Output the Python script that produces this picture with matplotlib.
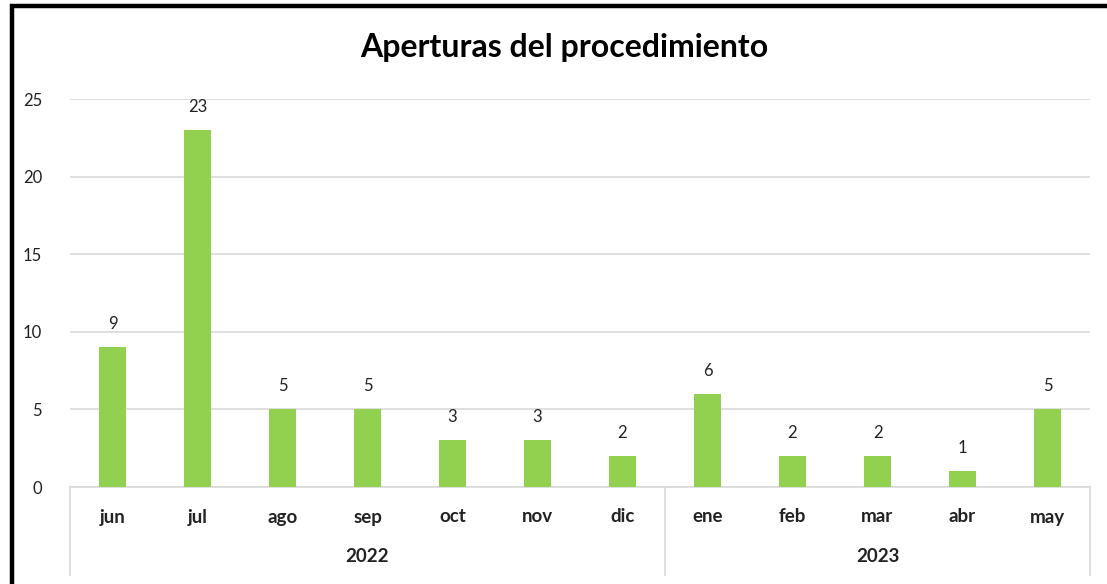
import matplotlib
matplotlib.use("Agg")
import matplotlib.pyplot as plt
from matplotlib.patches import Rectangle
from matplotlib.lines import Line2D

months = ["jun", "jul", "ago", "sep", "oct", "nov", "dic",
          "ene", "feb", "mar", "abr", "may"]
values = [9, 23, 5, 5, 3, 3, 2, 6, 2, 2, 1, 5]
years = ["2022", "2023"]
year_counts = [7, 5]
yticks = [0, 5, 10, 15, 20, 25]

plt.rcParams['font.family'] = ['Lato', 'DejaVu Sans']

W, H = 1107, 584
fig = plt.figure(figsize=(W / 100, H / 100), dpi=100)
ax = fig.add_axes([70 / W, (H - 487) / H, (1090 - 70) / W, (487 - 99) / H])

x = list(range(len(months)))
bars = ax.bar(x, values, width=0.32, color="#92D050", zorder=3)
for xi, v in zip(x, values):
    ax.annotate(str(v), (xi, v), xytext=(0, 11), textcoords="offset points",
                ha="center", va="bottom", fontsize=12, color="#222222")

ax.set_xlim(-0.5, len(months) - 0.5)
ax.set_ylim(0, 25)
ax.set_yticks(yticks)
ax.set_yticklabels([str(t) for t in yticks], fontsize=12, color="#222222")
ax.tick_params(axis="y", length=0, pad=20)
ax.grid(axis="y", color="#d9d9d9", linewidth=1.2, zorder=0)
for s in ["top", "right", "left"]:
    ax.spines[s].set_visible(False)
ax.spines["bottom"].set_color("#d9d9d9")
ax.spines["bottom"].set_linewidth(1.2)
ax.set_xticks(x)
ax.set_xticklabels([""] * len(months))
ax.tick_params(axis="x", length=0)

trans = ax.get_xaxis_transform()
# month labels
for xi, m in zip(x, months):
    ax.text(xi, -30 / 388, m, transform=trans, ha="center", va="center",
            fontsize=13.5, fontweight="bold", color="#222222")
# year group labels and separators
start = 0
bounds = [-0.5]
for y, c in zip(years, year_counts):
    center = start + (c - 1) / 2
    ax.text(center, -70 / 388, y, transform=trans, ha="center", va="center",
            fontsize=13.5, fontweight="bold", color="#222222")
    start += c
    bounds.append(start - 0.5)
for b in bounds:
    ax.add_line(Line2D([b, b], [0, -88 / 388], transform=trans, color="#d9d9d9",
                       linewidth=1.2, clip_on=False))

fig.text(564 / W, (H - 48) / H, "Aperturas del procedimiento",
         ha="center", va="center", fontsize=23, fontweight="bold", color="#000000")

# outer frame (partially cropped in the reference)
fig.patches.append(Rectangle((11.5 / W, -0.05), 1.2, (H - 6) / H + 0.05,
                             transform=fig.transFigure, fill=False,
                             edgecolor="black", linewidth=3.2))

fig.savefig("out.png", dpi=100)
